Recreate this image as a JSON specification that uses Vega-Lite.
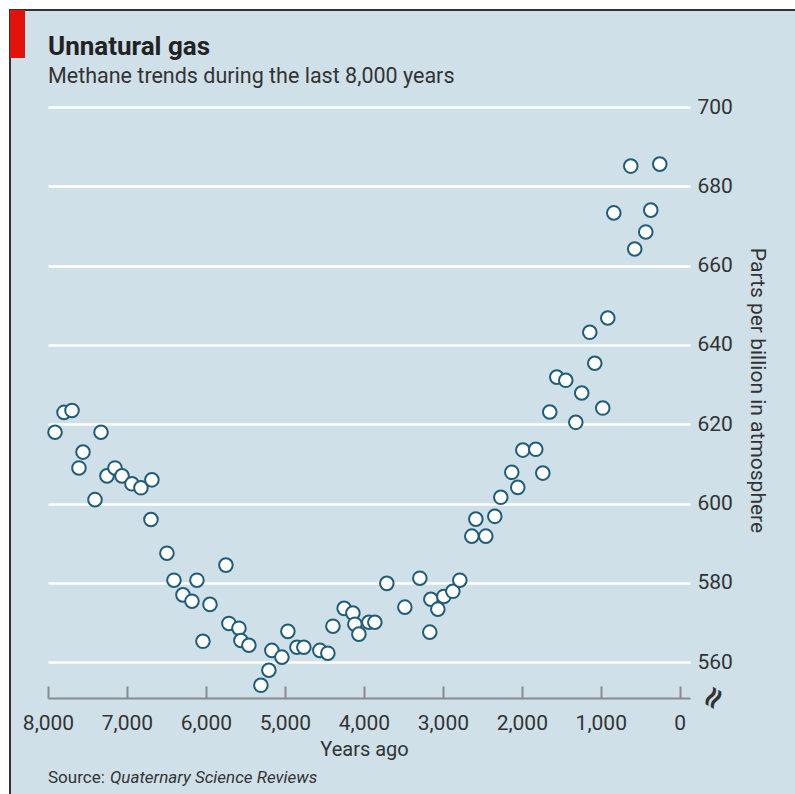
{
  "$schema": "https://vega.github.io/schema/vega-lite/v6.json",
  "width": 642,
  "height": 591,
  "autosize": "none",
  "padding": {"left": 48, "top": 107, "right": 105, "bottom": 96},
  "background": "#cfe0e9",
  "config": {"view": {"stroke": null}, "font": "Roboto"},
  "layer": [
    {
      "data": {"values": [
        {"years_ago": 7911, "ppb": 618}, {"years_ago": 7797, "ppb": 623}, {"years_ago": 7696, "ppb": 623.5},
        {"years_ago": 7608, "ppb": 609}, {"years_ago": 7557, "ppb": 613}, {"years_ago": 7405, "ppb": 601},
        {"years_ago": 7329, "ppb": 618}, {"years_ago": 7253, "ppb": 607}, {"years_ago": 7152, "ppb": 609},
        {"years_ago": 7063, "ppb": 607}, {"years_ago": 6937, "ppb": 605}, {"years_ago": 6823, "ppb": 604},
        {"years_ago": 6684, "ppb": 606}, {"years_ago": 6696, "ppb": 596}, {"years_ago": 6494, "ppb": 587.5},
        {"years_ago": 6405, "ppb": 580.7}, {"years_ago": 6291, "ppb": 577}, {"years_ago": 6177, "ppb": 575.4},
        {"years_ago": 6114, "ppb": 580.7}, {"years_ago": 6038, "ppb": 565.3}, {"years_ago": 5949, "ppb": 574.6},
        {"years_ago": 5747, "ppb": 584.5}, {"years_ago": 5709, "ppb": 569.8}, {"years_ago": 5582, "ppb": 568.6},
        {"years_ago": 5557, "ppb": 565.5}, {"years_ago": 5456, "ppb": 564.3}, {"years_ago": 5304, "ppb": 554.2},
        {"years_ago": 5203, "ppb": 558}, {"years_ago": 5165, "ppb": 563}, {"years_ago": 5038, "ppb": 561.3},
        {"years_ago": 4962, "ppb": 567.8}, {"years_ago": 4848, "ppb": 563.8}, {"years_ago": 4760, "ppb": 563.8},
        {"years_ago": 4557, "ppb": 563}, {"years_ago": 4456, "ppb": 562.3}, {"years_ago": 4392, "ppb": 569.1},
        {"years_ago": 4250, "ppb": 573.6}, {"years_ago": 4139, "ppb": 572.4}, {"years_ago": 4114, "ppb": 569.6},
        {"years_ago": 4063, "ppb": 567.1}, {"years_ago": 3937, "ppb": 570.1}, {"years_ago": 3861, "ppb": 570.1},
        {"years_ago": 3709, "ppb": 579.9}, {"years_ago": 3481, "ppb": 573.9}, {"years_ago": 3291, "ppb": 581.2},
        {"years_ago": 3165, "ppb": 567.6}, {"years_ago": 3152, "ppb": 575.9}, {"years_ago": 3063, "ppb": 573.4},
        {"years_ago": 2987, "ppb": 576.6}, {"years_ago": 2873, "ppb": 577.9}, {"years_ago": 2785, "ppb": 580.7},
        {"years_ago": 2633, "ppb": 591.8}, {"years_ago": 2582, "ppb": 596.1}, {"years_ago": 2456, "ppb": 591.8},
        {"years_ago": 2342, "ppb": 596.8}, {"years_ago": 2266, "ppb": 601.6}, {"years_ago": 2127, "ppb": 607.9},
        {"years_ago": 2051, "ppb": 604.1}, {"years_ago": 1987, "ppb": 613.5}, {"years_ago": 1823, "ppb": 613.7},
        {"years_ago": 1734, "ppb": 607.7}, {"years_ago": 1646, "ppb": 623.1}, {"years_ago": 1557, "ppb": 631.9},
        {"years_ago": 1443, "ppb": 631.1}, {"years_ago": 1316, "ppb": 620.5}, {"years_ago": 1241, "ppb": 627.9},
        {"years_ago": 1139, "ppb": 643.2}, {"years_ago": 1076, "ppb": 635.4}, {"years_ago": 975, "ppb": 624.1},
        {"years_ago": 911, "ppb": 646.8}, {"years_ago": 835, "ppb": 673.3}, {"years_ago": 570, "ppb": 664.2},
        {"years_ago": 620, "ppb": 685.1}, {"years_ago": 430, "ppb": 668.5}, {"years_ago": 367, "ppb": 674},
        {"years_ago": 253, "ppb": 685.6}
      ]},
      "mark": {"type": "point", "shape": "circle", "filled": true, "fill": "white", "stroke": "#1f5d78", "strokeWidth": 2, "size": 185, "opacity": 1},
      "encoding": {
        "x": {
          "field": "years_ago", "type": "quantitative",
          "scale": {"domain": [-130, 8000], "reverse": true, "nice": false, "zero": false},
          "axis": {
            "values": [8000, 7000, 6000, 5000, 4000, 3000, 2000, 1000, 0],
            "format": ",d",
            "grid": false,
            "labelFlush": false,
            "domainColor": "#8a8a8a", "domainWidth": 2,
            "tickColor": "#8a8a8a", "tickWidth": 2, "tickSize": -12,
            "labelPadding": 26, "labelFontSize": 21, "labelColor": "#333333", "labelFont": "Roboto",
            "title": "Years ago", "titleFont": "Roboto", "titleFontSize": 20, "titleFontWeight": "normal",
            "titleColor": "#333333", "titlePadding": 6, "titleX": 316
          }
        },
        "y": {
          "field": "ppb", "type": "quantitative",
          "scale": {"domain": [551, 700], "nice": false, "zero": false},
          "axis": {
            "orient": "right",
            "values": [560, 580, 600, 620, 640, 660, 680, 700],
            "grid": true, "gridColor": "white", "gridWidth": 2.5, "gridOpacity": 1,
            "ticks": false, "domain": false,
            "labelPadding": 7, "labelFontSize": 21, "labelColor": "#333333", "labelFont": "Roboto",
            "title": "Parts per billion in atmosphere", "titleFont": "Roboto", "titleFontSize": 21,
            "titleFontWeight": "normal", "titleColor": "#333333", "titlePadding": 14, "titleY": 283
          }
        }
      }
    },
    {
      "data": {"values": [{"k": "frame"}]},
      "mark": {"type": "rect", "fillOpacity": 0, "stroke": "white", "strokeWidth": 20},
      "encoding": {
        "x": {"datum": 8607.8, "type": "quantitative"},
        "x2": {"datum": -2156},
        "y": {"datum": 726.98, "type": "quantitative"},
        "y2": {"datum": 512.68}
      }
    },
    {
      "data": {"values": [{"k": "border"}]},
      "mark": {"type": "rect", "fillOpacity": 0, "stroke": "#333333", "strokeWidth": 2},
      "encoding": {
        "x": {"datum": 8481.2, "type": "quantitative"},
        "x2": {"datum": -2156},
        "y": {"datum": 724.46, "type": "quantitative"},
        "y2": {"datum": 512.68}
      }
    },
    {
      "data": {"values": [{"k": "flag"}]},
      "mark": {"type": "rect", "color": "#e3120b"},
      "encoding": {
        "x": {"datum": 8481.2, "type": "quantitative"},
        "x2": {"datum": 8291.3},
        "y": {"datum": 724.46, "type": "quantitative"},
        "y2": {"datum": 712.35}
      }
    },
    {
      "data": {"values": [{"label": "Unnatural gas"}]},
      "mark": {"type": "text", "align": "left", "baseline": "alphabetic", "fontSize": 26, "fontWeight": "bold", "color": "#222222", "font": "Roboto"},
      "encoding": {
        "x": {"datum": 8000, "type": "quantitative"},
        "y": {"datum": 713.1, "type": "quantitative"},
        "text": {"field": "label"}
      }
    },
    {
      "data": {"values": [{"label": "Methane trends during the last 8,000 years"}]},
      "mark": {"type": "text", "align": "left", "baseline": "alphabetic", "fontSize": 21.5, "color": "#333333", "font": "Roboto"},
      "encoding": {
        "x": {"datum": 8000, "type": "quantitative"},
        "y": {"datum": 706.05, "type": "quantitative"},
        "text": {"field": "label"}
      }
    },
    {
      "data": {"values": [{"label": "Source:"}]},
      "mark": {"type": "text", "align": "left", "baseline": "alphabetic", "fontSize": 17, "color": "#333333", "font": "Roboto"},
      "encoding": {
        "x": {"datum": 8000, "type": "quantitative"},
        "y": {"datum": 529.5, "type": "quantitative"},
        "text": {"field": "label"}
      }
    },
    {
      "data": {"values": [{"label": "Quaternary Science Reviews"}]},
      "mark": {"type": "text", "align": "left", "baseline": "alphabetic", "fontSize": 17, "fontStyle": "italic", "color": "#333333", "font": "Roboto", "dx": 62},
      "encoding": {
        "x": {"datum": 8000, "type": "quantitative"},
        "y": {"datum": 529.5, "type": "quantitative"},
        "text": {"field": "label"}
      }
    },
    {
      "data": {"values": [{"label": "≈"}]},
      "mark": {"type": "text", "align": "center", "baseline": "middle", "fontSize": 30, "fontWeight": "bold", "color": "#333333", "font": "DejaVu Sans", "angle": 300},
      "encoding": {
        "x": {"datum": -430, "type": "quantitative"},
        "y": {"datum": 551, "type": "quantitative"},
        "text": {"field": "label"}
      }
    }
  ]
}
